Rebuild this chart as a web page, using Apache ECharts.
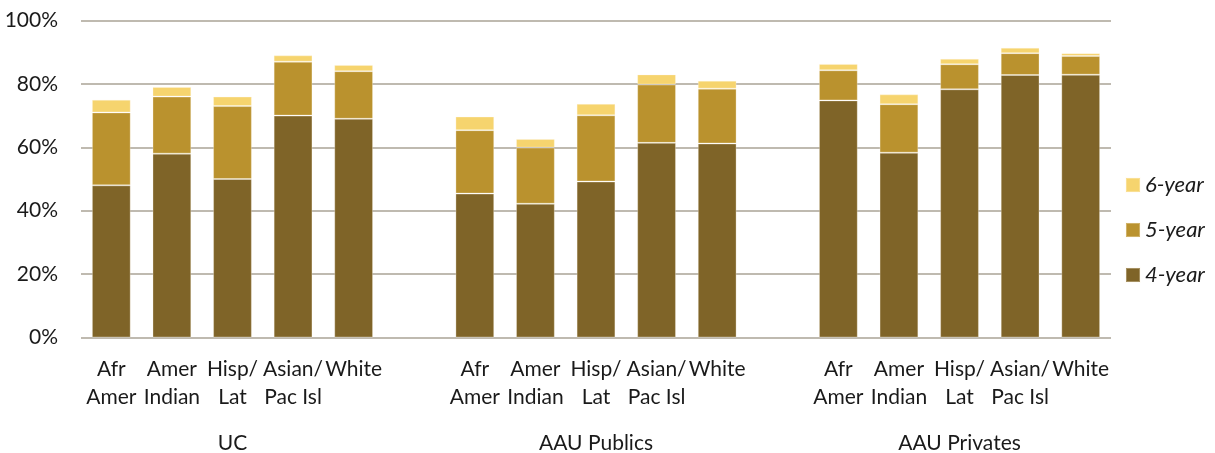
<!DOCTYPE html>
<html>
<head>
<meta charset="utf-8">
<script src="https://cdn.jsdelivr.net/npm/echarts@6/dist/echarts.min.js"></script>
<style>
  html, body { margin: 0; padding: 0; background: #ffffff; }
  #chart { width: 1215px; height: 453px; }
</style>
</head>
<body>
<div id="chart"></div>
<script>
// Graduation rates by race/ethnicity, stacked by time to degree (percent of cohort)
const groups = ['UC', 'AAU Publics', 'AAU Privates'];
const races = ['Afr\nAmer', 'Amer\nIndian', 'Hisp/\nLat', 'Asian/\nPac Isl', 'White'];
const seriesNames = ['4-year', '5-year', '6-year'];

// Increment graduating within each window, one row per group
const fourYear = [
  [48, 58, 50, 70, 69],
  [45.4, 42.2, 49.2, 61.4, 61.2],
  [74.8, 58.3, 78.3, 82.8, 82.9]
];
const fiveYear = [
  [23, 18, 23, 17, 15],
  [20.0, 17.7, 20.9, 18.4, 17.3],
  [9.5, 15.3, 7.9, 6.9, 5.9]
];
const sixYear = [
  [4, 3, 3, 2, 2],
  [4.3, 2.7, 3.6, 3.2, 2.5],
  [2.0, 3.1, 1.7, 1.7, 0.9]
];

const yTicks = { min: 0, max: 100, interval: 20 };
const colors = ['#7f6428', '#ba922e', '#f6d46e'];
const font = 'Lato, "Open Sans", sans-serif';
const textColor = '#1a1a1a';

// Flatten groups into one category axis with an empty slot between groups
const categories = [];
const groupLabels = [];
const flat = [[], [], []];
groups.forEach((g, gi) => {
  if (gi > 0) {
    categories.push('');
    groupLabels.push('');
    flat.forEach(arr => arr.push(null));
  }
  races.forEach((r, ri) => {
    categories.push(r);
    groupLabels.push(ri === 2 ? g : '');
    flat[0].push(fourYear[gi][ri]);
    flat[1].push(fiveYear[gi][ri]);
    flat[2].push(sixYear[gi][ri]);
  });
});

const chart = echarts.init(document.getElementById('chart'), null, { renderer: 'canvas' });
chart.setOption({
  animation: false,
  backgroundColor: '#ffffff',
  grid: { left: 81, right: 104, top: 20.5, bottom: 115.5, containLabel: false, outerBoundsMode: 'none' },
  legend: {
    orient: 'vertical',
    left: 1120,
    top: 169,
    padding: 5,
    data: ['6-year', '5-year', '4-year'],
    icon: 'rect',
    itemWidth: 14,
    itemHeight: 14,
    itemGap: 23,
    textStyle: { fontFamily: font, fontSize: 22, fontStyle: 'italic', color: textColor, lineHeight: 22 }
  },
  xAxis: [
    {
      type: 'category',
      data: categories,
      position: 'bottom',
      axisLine: { show: false },
      axisTick: { show: false },
      axisLabel: {
        interval: 0,
        margin: 18,
        fontFamily: font,
        fontSize: 21,
        lineHeight: 28,
        color: textColor
      }
    },
    {
      type: 'category',
      data: groupLabels,
      position: 'bottom',
      offset: 74,
      axisLine: { show: false },
      axisTick: { show: false },
      axisLabel: {
        interval: 0,
        margin: 18,
        fontFamily: font,
        fontSize: 21,
        lineHeight: 28,
        color: textColor
      }
    }
  ],
  yAxis: {
    type: 'value',
    min: yTicks.min,
    max: yTicks.max,
    interval: yTicks.interval,
    axisLine: { show: false },
    axisTick: { show: false },
    axisLabel: {
      formatter: '{value}%',
      margin: 23,
      fontFamily: font,
      fontSize: 21,
      color: textColor
    },
    splitLine: { lineStyle: { color: '#bfbab0', width: 2 } }
  },
  series: seriesNames.map((name, i) => ({
    name: name,
    type: 'bar',
    stack: 'rate',
    xAxisIndex: 0,
    barCategoryGap: '36%',
    itemStyle: { color: colors[i], borderColor: 'rgba(255,250,235,0.3)', borderWidth: 1 },
    data: flat[i]
  }))
});
</script>
</body>
</html>
